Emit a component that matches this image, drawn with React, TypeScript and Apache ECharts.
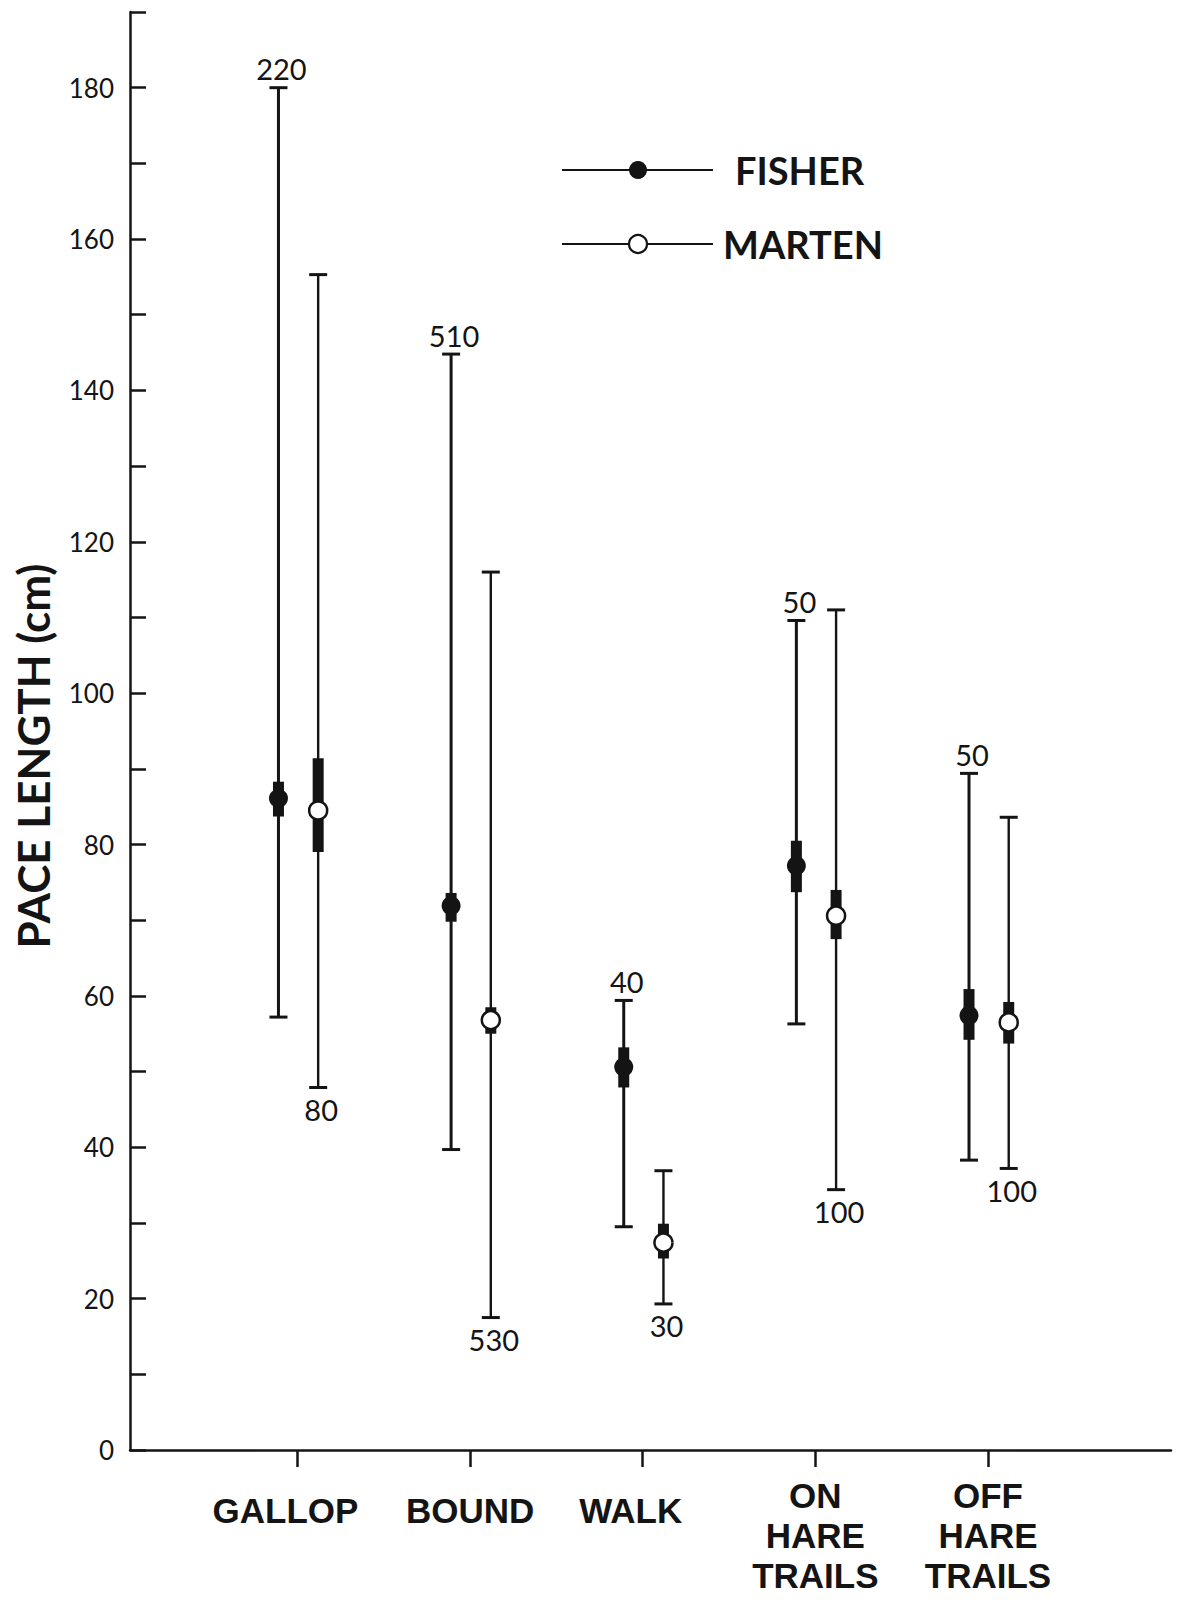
import React, { useEffect, useRef } from 'react';
import * as echarts from 'echarts';

const categories = ['GALLOP', 'BOUND', 'WALK', 'ON\nHARE\nTRAILS', 'OFF\nHARE\nTRAILS'];
const categoryPositions = [1, 2, 3, 4, 5];

// Fisher: range, standard-error box, mean, sample size
const fisherMean = [86.1, 71.9, 50.6, 77.2, 57.4];
const fisherLow = [57.2, 39.7, 29.5, 56.3, 38.3];
const fisherHigh = [180, 144.8, 59.4, 109.6, 89.4];
const fisherSeLow = [83.7, 69.8, 47.9, 73.7, 54.2];
const fisherSeHigh = [88.3, 73.6, 53.2, 80.5, 60.9];
const fisherN = ['220', '510', '40', '50', '50'];

// Marten
const martenMean = [84.5, 56.8, 27.4, 70.6, 56.5];
const martenLow = [47.9, 17.5, 19.3, 34.4, 37.2];
const martenHigh = [155.3, 116.0, 36.9, 111.0, 83.6];
const martenSeLow = [79.0, 55.0, 25.3, 67.5, 53.7];
const martenSeHigh = [91.4, 58.5, 29.9, 74.0, 59.2];
const martenN = ['80', '530', '30', '100', '100'];

const yMin = 0;
const yMax = 190;
const yInterval = 10;

const INK = '#141414';
const FONT = 'Lato, "Liberation Sans", sans-serif';
const CAT_FONT = '"Liberation Sans", Arial, sans-serif';

function buildData(mean: number[], low: number[], high: number[], seLow: number[], seHigh: number[], offset: number) {
  return categoryPositions.map((c, i) => [c + offset, low[i], high[i], seLow[i], seHigh[i], mean[i], i]);
}

function makeRenderer(kind: 'fisher' | 'marten') {
  const labels = kind === 'fisher' ? fisherN : martenN;
  return (params: any, api: any) => {
    const x = api.value(0);
    const pLow = api.coord([x, api.value(1)]);
    const pHigh = api.coord([x, api.value(2)]);
    const pSeLow = api.coord([x, api.value(3)]);
    const pSeHigh = api.coord([x, api.value(4)]);
    const pMean = api.coord([x, api.value(5)]);
    const idx = api.value(6);
    const cx = pMean[0];
    const lw = kind === 'fisher' ? 3 : 2.4;
    const capHalf = 9;
    const boxHalf = 5.5;
    const children: any[] = [
      { type: 'line', shape: { x1: cx, y1: pHigh[1], x2: cx, y2: pLow[1] }, style: { stroke: INK, lineWidth: lw } },
      { type: 'line', shape: { x1: cx - capHalf, y1: pHigh[1], x2: cx + capHalf, y2: pHigh[1] }, style: { stroke: INK, lineWidth: 3 } },
      { type: 'line', shape: { x1: cx - capHalf, y1: pLow[1], x2: cx + capHalf, y2: pLow[1] }, style: { stroke: INK, lineWidth: 3 } },
      { type: 'rect', shape: { x: cx - boxHalf, y: pSeHigh[1], width: boxHalf * 2, height: pSeLow[1] - pSeHigh[1] }, style: { fill: INK } },
      {
        type: 'circle',
        shape: { cx, cy: pMean[1], r: kind === 'fisher' ? 9.5 : 9 },
        style: kind === 'fisher' ? { fill: INK } : { fill: '#ffffff', stroke: INK, lineWidth: 2.5 },
      },
      {
        type: 'text',
        x: cx + 3,
        y: kind === 'fisher' ? pHigh[1] - 19 : pLow[1] + 22,
        style: {
          text: labels[idx],
          fontSize: 29,
          fontFamily: FONT,
          fill: INK,
          align: 'center',
          verticalAlign: 'middle',
        },
      },
    ];
    return { type: 'group', children };
  };
}

export default function App() {
  const ref = useRef<HTMLDivElement>(null);
  useEffect(() => {
    if (!ref.current) return;
    const chart = echarts.init(ref.current, undefined, { renderer: 'svg' });
    const axisLineStyle = { color: INK, width: 2.5 };
    const labelBase = { fontSize: 35, fontFamily: CAT_FONT, fontWeight: 'bold', color: INK };
    const option: any = {
      animation: false,
      backgroundColor: '#ffffff',
      grid: { left: 130, right: 12, top: 12, bottom: 156, containLabel: false, outerBoundsMode: 'none' },
      xAxis: {
        type: 'value',
        min: 0.03,
        max: 6.06,
        axisLine: { show: true, lineStyle: axisLineStyle },
        axisTick: { show: true, customValues: categoryPositions, length: 17, lineStyle: axisLineStyle },
        axisLabel: {
          customValues: categoryPositions,
          formatter: (v: number) => {
            const s = categories[Math.round(v) - 1] || '';
            if (s.indexOf('\n') >= 0) return s;
            if (s === 'GALLOP' || s === 'WALK') return `{l|${s}}`;
            return `{s|${s}}`;
          },
          margin: 25,
          lineHeight: 40,
          ...labelBase,
          rich: {
            s: { lineHeight: 71, ...labelBase },
            l: { lineHeight: 71, padding: [0, 24, 0, 0], ...labelBase },
          },
        },
        splitLine: { show: false },
      },
      yAxis: {
        type: 'value',
        min: yMin,
        max: yMax,
        interval: yInterval,
        axisLine: { show: true, lineStyle: axisLineStyle },
        axisTick: { show: true, inside: true, length: 16, lineStyle: axisLineStyle },
        axisLabel: {
          formatter: (v: number) => (v % 20 === 0 ? String(v) : ''),
          fontSize: 26,
          fontFamily: FONT,
          color: INK,
          margin: 16,
        },
        splitLine: { show: false },
      },
      graphic: [
        {
          type: 'text',
          x: 33,
          y: 756,
          rotation: Math.PI / 2,
          style: {
            text: 'PACE LENGTH (cm)',
            fontSize: 44,
            fontWeight: 'bold',
            fontFamily: FONT,
            fill: INK,
            align: 'center',
            verticalAlign: 'middle',
          },
        },
        { type: 'line', shape: { x1: 562, y1: 170, x2: 713, y2: 170 }, style: { stroke: INK, lineWidth: 2.2 } },
        { type: 'circle', shape: { cx: 638, cy: 170, r: 9 }, style: { fill: INK } },
        {
          type: 'text', x: 735, y: 170,
          style: { text: 'FISHER', fontSize: 38, fontWeight: 'bold', fontFamily: FONT, fill: INK, align: 'left', verticalAlign: 'middle' },
        },
        { type: 'line', shape: { x1: 562, y1: 244, x2: 713, y2: 244 }, style: { stroke: INK, lineWidth: 2.2 } },
        { type: 'circle', shape: { cx: 638, cy: 244, r: 9 }, style: { fill: '#ffffff', stroke: INK, lineWidth: 2.2 } },
        {
          type: 'text', x: 723, y: 244,
          style: { text: 'MARTEN', fontSize: 38, fontWeight: 'bold', fontFamily: FONT, fill: INK, align: 'left', verticalAlign: 'middle' },
        },
      ],
      series: [
        {
          name: 'FISHER',
          type: 'custom',
          clip: false,
          renderItem: makeRenderer('fisher'),
          encode: { x: 0, y: [1, 2] },
          data: buildData(fisherMean, fisherLow, fisherHigh, fisherSeLow, fisherSeHigh, -0.11),
        },
        {
          name: 'MARTEN',
          type: 'custom',
          clip: false,
          renderItem: makeRenderer('marten'),
          encode: { x: 0, y: [1, 2] },
          data: buildData(martenMean, martenLow, martenHigh, martenSeLow, martenSeHigh, 0.12),
        },
      ],
    };
    chart.setOption(option);
    return () => chart.dispose();
  }, []);
  return (
    <div
      ref={ref}
      style={{ position: 'fixed', left: 0, top: 0, width: 1183, height: 1606, background: '#fff' }}
    />
  );
}
